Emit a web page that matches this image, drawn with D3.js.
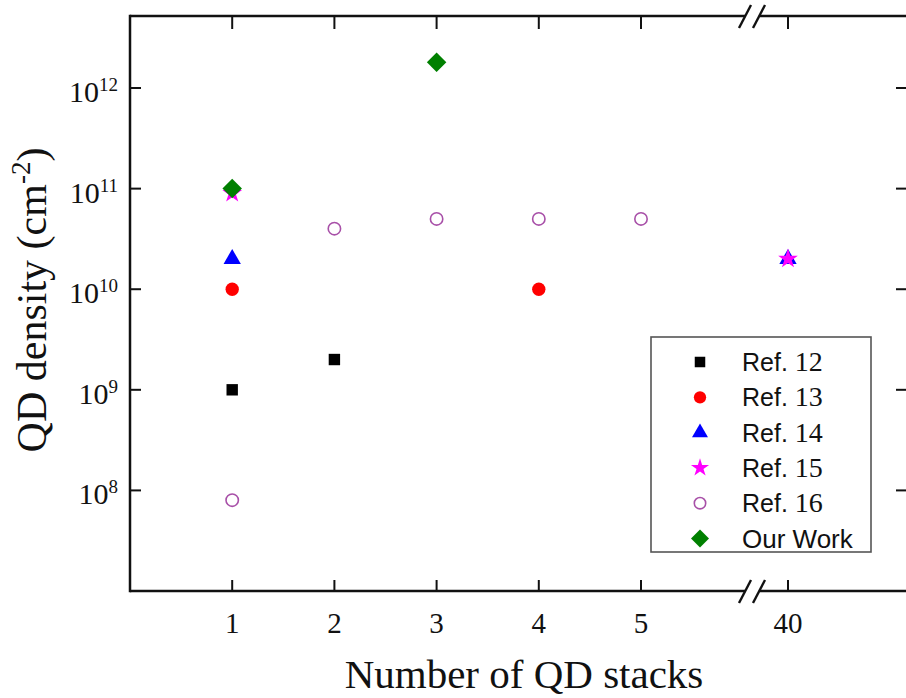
<!DOCTYPE html>
<html>
<head>
<meta charset="utf-8">
<script src="https://cdn.jsdelivr.net/npm/d3@7"></script>
<style>
  html, body { margin: 0; padding: 0; background: #fff; }
  svg { display: block; }
</style>
</head>
<body>
<svg id="chart" width="906" height="698"></svg>
<script>
// ---------- data ----------
const xCategories = [1, 2, 3, 4, 5, 40];
const xTickLabels = ["1", "2", "3", "4", "5", "40"];
const yTickValues = [1e8, 1e9, 1e10, 1e11, 1e12];
const yTickExponents = ["8", "9", "10", "11", "12"];

const ref12 = [[1, 1e9], [2, 2e9]];
const ref13 = [[1, 1e10], [4, 1e10]];
const ref14 = [[1, 2e10], [40, 2e10]];
const ref15 = [[1, 9e10], [40, 2e10]];
const ref16 = [[1, 8e7], [2, 4e10], [3, 5e10], [4, 5e10], [5, 5e10]];
const ourWork = [[1, 1e11], [3, 1.8e12]];

const seriesNames = ["Ref. 12", "Ref. 13", "Ref. 14", "Ref. 15", "Ref. 16", "Our Work"];
const seriesData = [ref12, ref13, ref14, ref15, ref16, ourWork];

// ---------- styles ----------
const seriesStyle = [
  { type: d3.symbolSquare,   size: 130, fill: "#000000", stroke: "none", rot: 0 },
  { type: d3.symbolCircle,   size: 140, fill: "#ff0000", stroke: "none", rot: 0 },
  { type: d3.symbolTriangle, size: 130, fill: "#0000ff", stroke: "none", rot: 0 },
  { type: d3.symbolStar,     size: 120, fill: "#ff00ff", stroke: "none", rot: 0 },
  { type: d3.symbolCircle,   size: 120, fill: "none",    stroke: "#a850a8", rot: 0 },
  { type: d3.symbolSquare,   size: 190, fill: "#008000", stroke: "none", rot: 45 }
];

const svg = d3.select("#chart");
const L = 130, R = 910, T = 16, B = 591;
const breakX = 752;

const x = d3.scaleLinear().domain([0, 5, 40, 45]).range([L, 641, 788, R]);
const y = d3.scaleLog().domain([1e7, 5.2e12]).range([B, T]);

const serif = "'Liberation Serif', 'Times New Roman', serif";
const sans = "'Liberation Sans', Arial, sans-serif";
const tickLen = 11;
const axisColor = "#111";
const axisW = 2.5;

// ---------- frame ----------
const frame = svg.append("g");
frame.append("line").attr("x1", L).attr("x2", L).attr("y1", T - 1.2).attr("y2", B + 1.2)
  .attr("stroke", axisColor).attr("stroke-width", axisW);
frame.append("line").attr("x1", R).attr("x2", R).attr("y1", T).attr("y2", B)
  .attr("stroke", axisColor).attr("stroke-width", axisW);
[T, B].forEach(yy => {
  frame.append("line").attr("x1", L).attr("x2", breakX - 7).attr("y1", yy).attr("y2", yy)
    .attr("stroke", axisColor).attr("stroke-width", axisW);
  frame.append("line").attr("x1", breakX + 8).attr("x2", R).attr("y1", yy).attr("y2", yy)
    .attr("stroke", axisColor).attr("stroke-width", axisW);
  [-7, 7].forEach(dx => {
    frame.append("line")
      .attr("x1", breakX + dx - 6).attr("y1", yy + 12)
      .attr("x2", breakX + dx + 6).attr("y2", yy - 11)
      .attr("stroke", axisColor).attr("stroke-width", 2.4);
  });
});

// x ticks (bottom and top)
xCategories.forEach((c, i) => {
  const xx = x(c);
  frame.append("line").attr("x1", xx).attr("x2", xx).attr("y1", B).attr("y2", B - tickLen)
    .attr("stroke", axisColor).attr("stroke-width", 2);
  frame.append("line").attr("x1", xx).attr("x2", xx).attr("y1", T).attr("y2", T + tickLen + 2)
    .attr("stroke", axisColor).attr("stroke-width", 2);
  svg.append("text").attr("x", xx).attr("y", 633)
    .attr("text-anchor", "middle").attr("font-family", serif).attr("font-size", 29)
    .attr("fill", "#111").text(xTickLabels[i]);
});

// y ticks (left and right)
yTickValues.forEach((v, i) => {
  const yy = y(v);
  frame.append("line").attr("x1", L).attr("x2", L + tickLen).attr("y1", yy).attr("y2", yy)
    .attr("stroke", axisColor).attr("stroke-width", 2);
  frame.append("line").attr("x1", R).attr("x2", R - tickLen - 3).attr("y1", yy).attr("y2", yy)
    .attr("stroke", axisColor).attr("stroke-width", 2);
  const t = svg.append("text").attr("x", 118).attr("y", yy + 14)
    .attr("text-anchor", "end").attr("font-family", serif).attr("font-size", 30)
    .attr("fill", "#111");
  t.append("tspan").text("10");
  t.append("tspan").attr("font-size", 19).attr("dy", -11).text(yTickExponents[i]);
});

// axis titles
svg.append("text").attr("x", 524).attr("y", 688)
  .attr("text-anchor", "middle").attr("font-family", serif).attr("font-size", 41)
  .attr("fill", "#111").text("Number of QD stacks");

const yt = svg.append("text")
  .attr("transform", "translate(46,300) rotate(-90)")
  .attr("text-anchor", "middle").attr("font-family", serif).attr("font-size", 42)
  .attr("fill", "#111");
yt.append("tspan").text("QD density (cm");
yt.append("tspan").attr("font-size", 27).attr("dy", -16).text("-2");
yt.append("tspan").attr("dy", 16).text(")");

// ---------- points ----------
seriesData.forEach((data, si) => {
  const st = seriesStyle[si];
  const sym = d3.symbol().type(st.type).size(st.size);
  svg.append("g").selectAll("path").data(data).join("path")
    .attr("d", sym)
    .attr("transform", d => `translate(${x(d[0])},${y(d[1])}) rotate(${st.rot})`)
    .attr("fill", st.fill)
    .attr("stroke", st.stroke)
    .attr("stroke-width", st.stroke === "none" ? 0 : 1.6);
});

// ---------- legend ----------
const lg = svg.append("g");
lg.append("rect").attr("x", 651).attr("y", 337).attr("width", 220).attr("height", 215)
  .attr("fill", "#fff").attr("stroke", "#555").attr("stroke-width", 1.6);
seriesNames.forEach((name, i) => {
  const cy = 362 + i * 35.3;
  const st = seriesStyle[i];
  lg.append("path")
    .attr("d", d3.symbol().type(st.type).size(st.size * 0.85))
    .attr("transform", `translate(700,${cy}) rotate(${st.rot})`)
    .attr("fill", st.fill).attr("stroke", st.stroke)
    .attr("stroke-width", st.stroke === "none" ? 0 : 1.6);
  const t = lg.append("text").attr("x", 742).attr("y", cy + 9).attr("fill", "#111");
  const parts = name.split(" ");
  if (name.startsWith("Ref.")) {
    t.append("tspan").attr("font-family", sans).attr("font-size", 25).text("Ref. ");
    t.append("tspan").attr("font-family", serif).attr("font-size", 28).text(parts[1]);
  } else {
    t.append("tspan").attr("font-family", sans).attr("font-size", 26).text(name);
  }
});
</script>
</body>
</html>
